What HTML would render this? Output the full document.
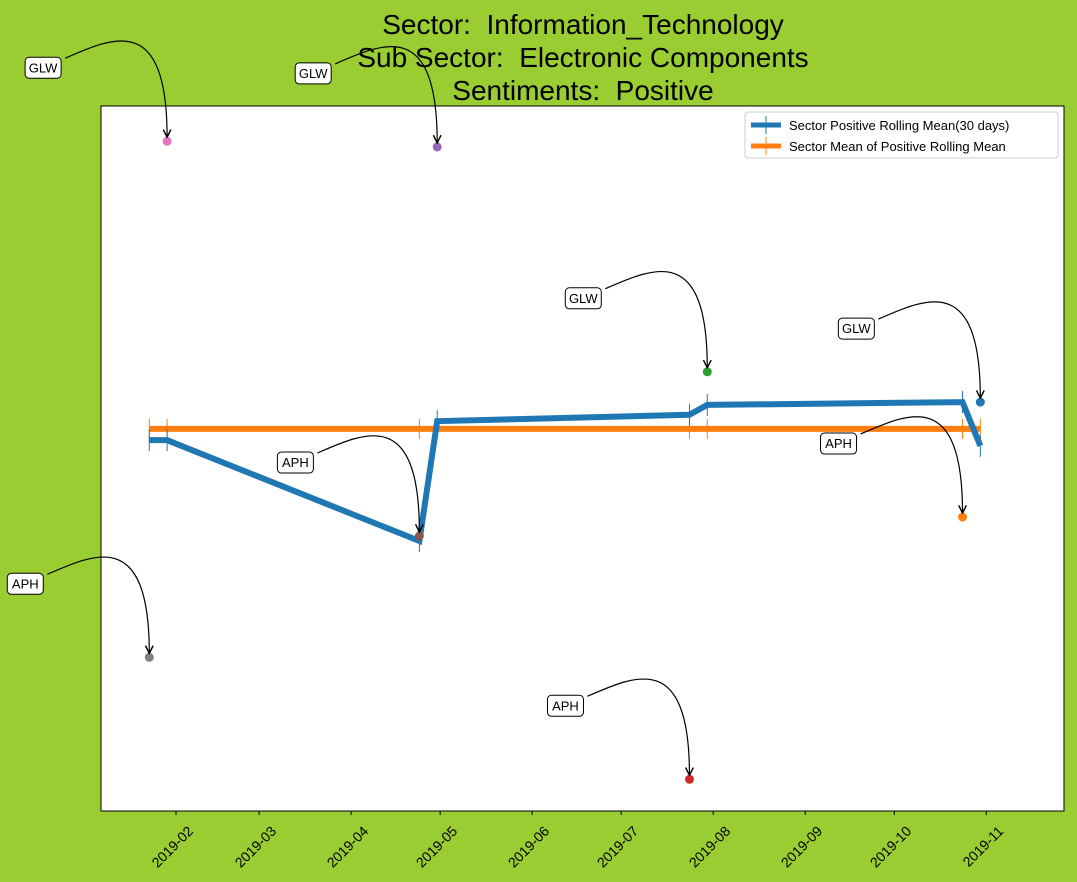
<!DOCTYPE html>
<html><head><meta charset="utf-8"><style>
body{margin:0;background:#9acd32;font-family:"Liberation Sans","DejaVu Sans",sans-serif}
svg{display:block}
text{white-space:pre}
</style></head><body>
<svg id="chart" width="1077" height="882">
<rect width="1077" height="882" fill="#9acd32"/>
<g font-size="28" text-anchor="middle" fill="#000">
<text x="583" y="34" xml:space="preserve">Sector:  Information_Technology</text>
<text x="583" y="67" xml:space="preserve">Sub Sector:  Electronic Components</text>
<text x="583" y="100" xml:space="preserve">Sentiments:  Positive</text>
</g>
<rect x="101" y="106" width="963" height="705" fill="#fff" stroke="#000" stroke-width="1"/>
<g id="xaxis"></g>
<g id="series"></g>
<g id="ann"></g>
<g>
<rect x="745" y="112" width="313" height="46" rx="3" fill="#fff" stroke="#ccc"/>
<line x1="751" y1="125" x2="781" y2="125" stroke="#1f77b4" stroke-width="5"/>
<line x1="766" y1="116" x2="766" y2="134" stroke="#1f77b4" stroke-width="1"/>
<text x="789" y="130" font-size="13">Sector Positive Rolling Mean(30 days)</text>
<line x1="751" y1="146" x2="781" y2="146" stroke="#ff7f0e" stroke-width="5"/>
<line x1="766" y1="137" x2="766" y2="155" stroke="#ff7f0e" stroke-width="1"/>
<text x="789" y="151" font-size="13">Sector Mean of Positive Rolling Mean</text>
</g>
</svg>
<script>
const tickLabels=["2019-02","2019-03","2019-04","2019-05","2019-06","2019-07","2019-08","2019-09","2019-10","2019-11"];
const lineDates=["2019-01-23","2019-01-29","2019-04-24","2019-04-30","2019-07-24","2019-07-30","2019-10-24","2019-10-30"];
const rollingValues=[0.526,0.526,0.383,0.553,0.562,0.576,0.580,0.518];
const meanValue=0.542;
const pointDates=["2019-01-23","2019-01-29","2019-04-24","2019-04-30","2019-07-24","2019-07-30","2019-10-24","2019-10-30"];
const pointValues=[0.218,0.950,0.390,0.942,0.045,0.623,0.417,0.580];
const pointLabels=["APH","GLW","APH","GLW","APH","GLW","APH","GLW"];
const pointColors=["#7f7f7f","#e377c2","#8c564b","#9467bd","#d62728","#2ca02c","#ff7f0e","#1f77b4"];
const NS="http://www.w3.org/2000/svg";
const t0=Date.UTC(2019,0,1);
function xs(s){const p=s.split("-");const d=(Date.UTC(+p[0],+p[1]-1,+(p[2]||1))-t0)/864e5;return 84+2.968*d;}
function ys(v){return 811-v*705;}
function mk(tag,attrs,parent){const e=document.createElementNS(NS,tag);for(const k in attrs)e.setAttribute(k,attrs[k]);parent.appendChild(e);return e;}
const xa=document.getElementById("xaxis"),se=document.getElementById("series"),an=document.getElementById("ann");
tickLabels.forEach(t=>{const x=xs(t);
const l=mk("line",{x1:x,y1:811,x2:x,y2:815,stroke:"#000"},xa);


const ax=x+18,ay=832;
const tx=mk("text",{x:ax,y:ay,"font-size":14,"text-anchor":"end",transform:`rotate(-45 ${ax} ${ay})`},xa);


tx.textContent=t;});
const x0=xs(lineDates[0]),x1=xs(lineDates[lineDates.length-1]);
const ml=mk("line",{x1:x0,y1:ys(meanValue),x2:x1,y2:ys(meanValue),stroke:"#ff7f0e","stroke-width":6},se);


lineDates.forEach(d=>{const x=xs(d);const m=mk("line",{x1:x,y1:ys(meanValue)-10,x2:x,y2:ys(meanValue)+10,stroke:"#ff7f0e"},se);

});
const pts=lineDates.map((d,i)=>xs(d)+","+ys(rollingValues[i])).join(" ");
const pl=mk("polyline",{points:pts,fill:"none",stroke:"#1f77b4","stroke-width":6},se);


lineDates.forEach((d,i)=>{const x=xs(d),y=ys(rollingValues[i]);const m=mk("line",{x1:x,y1:y-11,x2:x,y2:y+11,stroke:"#1f77b4"},se);

});
mk("defs",{},an).innerHTML='<marker id="ar" viewBox="0 0 10 10" refX="9" refY="5" markerWidth="8" markerHeight="8" orient="auto-start-reverse"><path d="M1,1 L9,5 L1,9" fill="none" stroke="#000" stroke-width="1.5"/></marker>';
pointDates.forEach((d,i)=>{const px=xs(d),py=ys(pointValues[i]);
const c=mk("circle",{cx:px,cy:py,r:4.5,fill:pointColors[i]},se);


const lx=px-124,ly=py-74;
const p=mk("path",{d:`M${lx+22},${ly-9} C${lx+70},${ly-30} ${px},${ly-55} ${px},${py-4}`,fill:"none",stroke:"#000","stroke-width":1.2,"marker-end":"url(#ar)"},an);


const r=mk("rect",{x:lx-18,y:ly-10,width:36,height:21,rx:4,fill:"#fff",stroke:"#000"},an);


const t=mk("text",{x:lx,y:ly+5,"font-size":13,"text-anchor":"middle"},an);


t.textContent=pointLabels[i];});
</script>
</body></html>
